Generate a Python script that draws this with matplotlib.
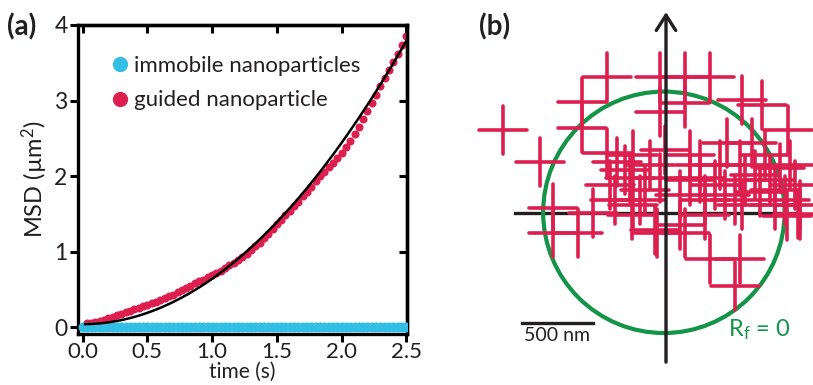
import numpy as np
import matplotlib
matplotlib.use("Agg")
import matplotlib.pyplot as plt
from matplotlib.lines import Line2D
from matplotlib.patches import Circle

plt.rcParams["font.family"] = ["Lato", "DejaVu Sans"]
plt.rcParams["mathtext.fontset"] = "custom"
plt.rcParams["mathtext.rm"] = "Lato"
plt.rcParams["mathtext.it"] = "Lato:italic"

TEXT = "#231f20"
RED = "#dc1f4f"
CYAN = "#33bfe5"
GREEN = "#139447"

# ---------------- (a) MSD data ----------------
frame_interval = 1 / 30  # s
time_guided = np.arange(1, 76) * frame_interval
msd_guided = [0.05, 0.06, 0.07, 0.08, 0.10, 0.12, 0.14, 0.16, 0.18, 0.20,
              0.22, 0.24, 0.26, 0.28, 0.30, 0.32, 0.34, 0.36, 0.38, 0.41,
              0.43, 0.46, 0.49, 0.52, 0.55, 0.58, 0.61, 0.63, 0.66, 0.69,
              0.72, 0.75, 0.78, 0.82, 0.85, 0.89, 0.93, 0.97, 1.02, 1.07,
              1.12, 1.18, 1.24, 1.30, 1.36, 1.42, 1.48, 1.54, 1.60, 1.66,
              1.73, 1.79, 1.86, 1.93, 2.00, 2.06, 2.12, 2.18, 2.24, 2.31,
              2.39, 2.47, 2.56, 2.65, 2.75, 2.86, 2.97, 3.08, 3.19, 3.30,
              3.40, 3.51, 3.62, 3.73, 3.85]
time_immobile = np.arange(0, 76) * frame_interval
msd_immobile = [0.0] * 76

# directed-motion fit: MSD = offset + (v t)^2
fit_offset = 0.04
fit_v_squared = 0.60
fit_t_start, fit_t_end = 0.02, 2.5

x_ticks = [0.0, 0.5, 1.0, 1.5, 2.0, 2.5]
x_tick_labels = ["0.0", "0.5", "1.0", "1.5", "2.0", "2.5"]
y_ticks = [0, 1, 2, 3, 4]

# ---------------- (b) trajectory data (nm) ----------------
traj_x = [-1150, -885, -415, -590, -590, -415, -345, -230, -230, -40,
          135, 310, 135, 535, 675, 860, -40, -5, -255, -40,
          170, 240, 430, 605, 380, 555, 730, 805, 910, 660,
          485, 275, 100, -185, -360, 840, 945, 765, 945, -795,
          -795, -620, -515, -240, -75, 100, 275, 310, 520, 485,
          850, 930, 535, -65, 135, -290, -115, 170, 345, 520,
          695, 875, 625, -395, -150, 415, 765, 240]
traj_y = [585, 360, 955, 780, 600, 420, 360, 410, 55, 955,
          955, 955, 775, 795, 760, 585, 710, 445, 245, 245,
          410, 245, 495, 495, 340, 230, 230, 315, 195, 150,
          90, 90, 125, 90, 90, 90, 55, 55, -15, 35,
          -140, -140, 0, -15, -120, -85, -15, -325, -325, -515,
          -20, -5, 55, -140, -140, 305, 340, 230, 195, 340,
          410, 340, 270, 195, 160, 125, 160, 340]
loc_error = 170  # nm, half-length of each error cross
confinement_radius = 850  # nm
confinement_center = (-15, 5)
scale_bar_nm = 500

fig = plt.figure(figsize=(8.13, 3.85), dpi=100)

# ================= panel (a) =================
ax = fig.add_axes([78 / 813, 51 / 385, 329 / 813, 309 / 385])
ax.plot(time_guided, msd_guided, "o", color=RED, ms=5.8, mec="none", zorder=2)
ax.plot(time_immobile, msd_immobile, "o", color=CYAN, ms=7.2, mec="none", zorder=3)
t_fit = np.linspace(fit_t_start, fit_t_end, 300)
ax.plot(t_fit, fit_offset + fit_v_squared * t_fit ** 2, color="black", lw=1.8, zorder=4)

ax.set_xlim(-0.035, 2.505)
ax.set_ylim(-0.09, 4.0)
ax.set_xticks(x_ticks)
ax.set_xticklabels(x_tick_labels)
ax.set_yticks(y_ticks)
for s in ax.spines.values():
    s.set_linewidth(2.4)
ax.tick_params(direction="out", length=6, width=2.2, labelsize=16.5,
               labelcolor=TEXT, pad=1.5)
ax.tick_params(axis="x", labelsize=16, pad=0)
ax.set_xlabel("time (s)", fontsize=15, color=TEXT, labelpad=0)
ax.set_ylabel("MSD (µm$^{2}$)", fontsize=17, color=TEXT, labelpad=3)

top = ax.secondary_xaxis("top")
top.set_xticks(x_ticks)
top.tick_params(direction="in", length=6, width=2.2, labeltop=False)
right = ax.secondary_yaxis("right")
right.set_yticks(y_ticks)
right.tick_params(direction="in", length=6, width=2.2, labelright=False)
top.spines["top"].set_linewidth(2.4)
right.spines["right"].set_linewidth(2.4)

handles = [Line2D([], [], ls="none", marker="o", ms=11, color=CYAN, mec="none"),
           Line2D([], [], ls="none", marker="o", ms=11, color=RED, mec="none")]
fig.legend(handles, ["immobile nanoparticles", "guided nanoparticle"],
           loc="upper left", bbox_to_anchor=(112.7 / 813, (385 - 56) / 385),
           frameon=False, fontsize=16, handlelength=0.7, handletextpad=0.25,
           labelspacing=0.65, borderpad=0, borderaxespad=0, labelcolor=TEXT)

fig.text(7 / 813, (385 - 27) / 385, "(a)", fontsize=20, fontweight="bold",
         ha="left", va="center", color=TEXT)

# ================= panel (b) =================
bx = fig.add_axes([470 / 813, 0, 343 / 813, 1])
bx.set_xlim(-1380, 1035)
bx.set_ylim(-1211, 1500)
bx.axis("off")

bx.plot([-1065, 940], [0, 0], color=TEXT, lw=2.4, zorder=1)
bx.add_patch(Circle(confinement_center, confinement_radius, fill=False,
                    ec=GREEN, lw=3.0, zorder=2))

tx = np.array(traj_x)
ty = np.array(traj_y)
h = bx.hlines(ty, tx - loc_error, tx + loc_error, color=RED, lw=2.6, zorder=3)
v = bx.vlines(tx, ty - loc_error, ty + loc_error, color=RED, lw=2.6, zorder=3)
h.set_capstyle("round")
v.set_capstyle("round")

bx.annotate("", xy=(0, 1415), xytext=(0, -1050),
            arrowprops=dict(arrowstyle="->,head_length=0.55,head_width=0.35",
                            lw=2.4, color=TEXT, mutation_scale=20,
                            shrinkA=0, shrinkB=0), zorder=4)

bar_left = -1015
bx.plot([bar_left, bar_left + scale_bar_nm], [-775, -775], color=TEXT, lw=2.4)
bx.text(bar_left + scale_bar_nm / 2, -805, f"{scale_bar_nm} nm", ha="center",
        va="top", fontsize=14, color=TEXT)
bx.text(436, -824, r"R$_\mathrm{f}$ = 0", ha="left", va="center",
        fontsize=17, color=GREEN)

fig.text(479 / 813, (385 - 27) / 385, "(b)", fontsize=20, fontweight="bold",
         ha="left", va="center", color=TEXT)

fig.savefig("out.png", dpi=100)
